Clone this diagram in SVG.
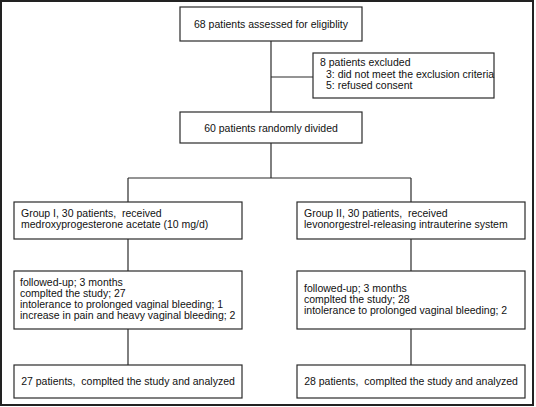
<svg xmlns="http://www.w3.org/2000/svg" width="536" height="407" viewBox="0 0 536 407">
<style>
.box{fill:#fff;stroke:#2a2a2a;stroke-width:1.2}
.ln{stroke:#2a2a2a;stroke-width:1.2;fill:none}
text{font-family:"Liberation Sans",Arial,sans-serif;font-size:10.5px;fill:#111;white-space:pre}
.c{text-anchor:middle}
</style>
<rect x="0" y="0" width="536" height="407" fill="#fff"/>
<rect x="1" y="1" width="532" height="404" fill="none" stroke="#222" stroke-width="2"/>
<g id="connectors">
<line class="ln" x1="271" y1="41" x2="271" y2="112"/>
<line class="ln" x1="271" y1="77" x2="313" y2="77"/>
<line class="ln" x1="271" y1="143" x2="271" y2="178"/>
<line class="ln" x1="128" y1="178" x2="411" y2="178"/>
<line class="ln" x1="128" y1="178" x2="128" y2="202"/>
<line class="ln" x1="411" y1="178" x2="411" y2="202"/>
<line class="ln" x1="128" y1="239" x2="128" y2="271"/>
<line class="ln" x1="411" y1="239" x2="411" y2="271"/>
<line class="ln" x1="128" y1="329" x2="128" y2="365"/>
<line class="ln" x1="411" y1="329" x2="411" y2="365"/>
</g>
<g id="assessed">
<rect class="box" x="180" y="7" width="182" height="34"/>
<text class="c" x="271" y="28">68 patients assessed for eligiblity</text>
</g>
<g id="excluded">
<rect class="box" x="313" y="53" width="181" height="45"/>
<text x="320" y="66">8 patients excluded</text>
<text x="326" y="77.5">3: did not meet the exclusion criteria</text>
<text x="326" y="89">5: refused consent</text>
</g>
<g id="randomized">
<rect class="box" x="180" y="112" width="182" height="31"/>
<text class="c" x="271" y="132">60 patients randomly divided</text>
</g>
<g id="group1">
<rect class="box" x="14" y="202" width="228" height="37"/>
<text x="21" y="217">Group I, 30 patients,  received</text>
<text x="21" y="228">medroxyprogesterone acetate (10 mg/d)</text>
</g>
<g id="group2">
<rect class="box" x="297" y="202" width="228" height="37"/>
<text x="304" y="217">Group II, 30 patients,  received</text>
<text x="304" y="228">levonorgestrel-releasing intrauterine system</text>
</g>
<g id="followup1">
<rect class="box" x="14" y="271" width="228" height="58"/>
<text x="20" y="286">followed-up; 3 months</text>
<text x="20" y="297">complted the study; 27</text>
<text x="20" y="308">intolerance to prolonged vaginal bleeding; 1</text>
<text x="20" y="319">increase in pain and heavy vaginal bleeding; 2</text>
</g>
<g id="followup2">
<rect class="box" x="297" y="271" width="228" height="58"/>
<text x="304" y="292">followed-up; 3 months</text>
<text x="304" y="303">complted the study; 28</text>
<text x="304" y="314">intolerance to prolonged vaginal bleeding; 2</text>
</g>
<g id="analyzed1">
<rect class="box" x="14" y="365" width="228" height="33"/>
<text class="c" x="128" y="385">27 patients,  complted the study and analyzed</text>
</g>
<g id="analyzed2">
<rect class="box" x="297" y="365" width="228" height="33"/>
<text class="c" x="411" y="385">28 patients,  complted the study and analyzed</text>
</g>
</svg>
